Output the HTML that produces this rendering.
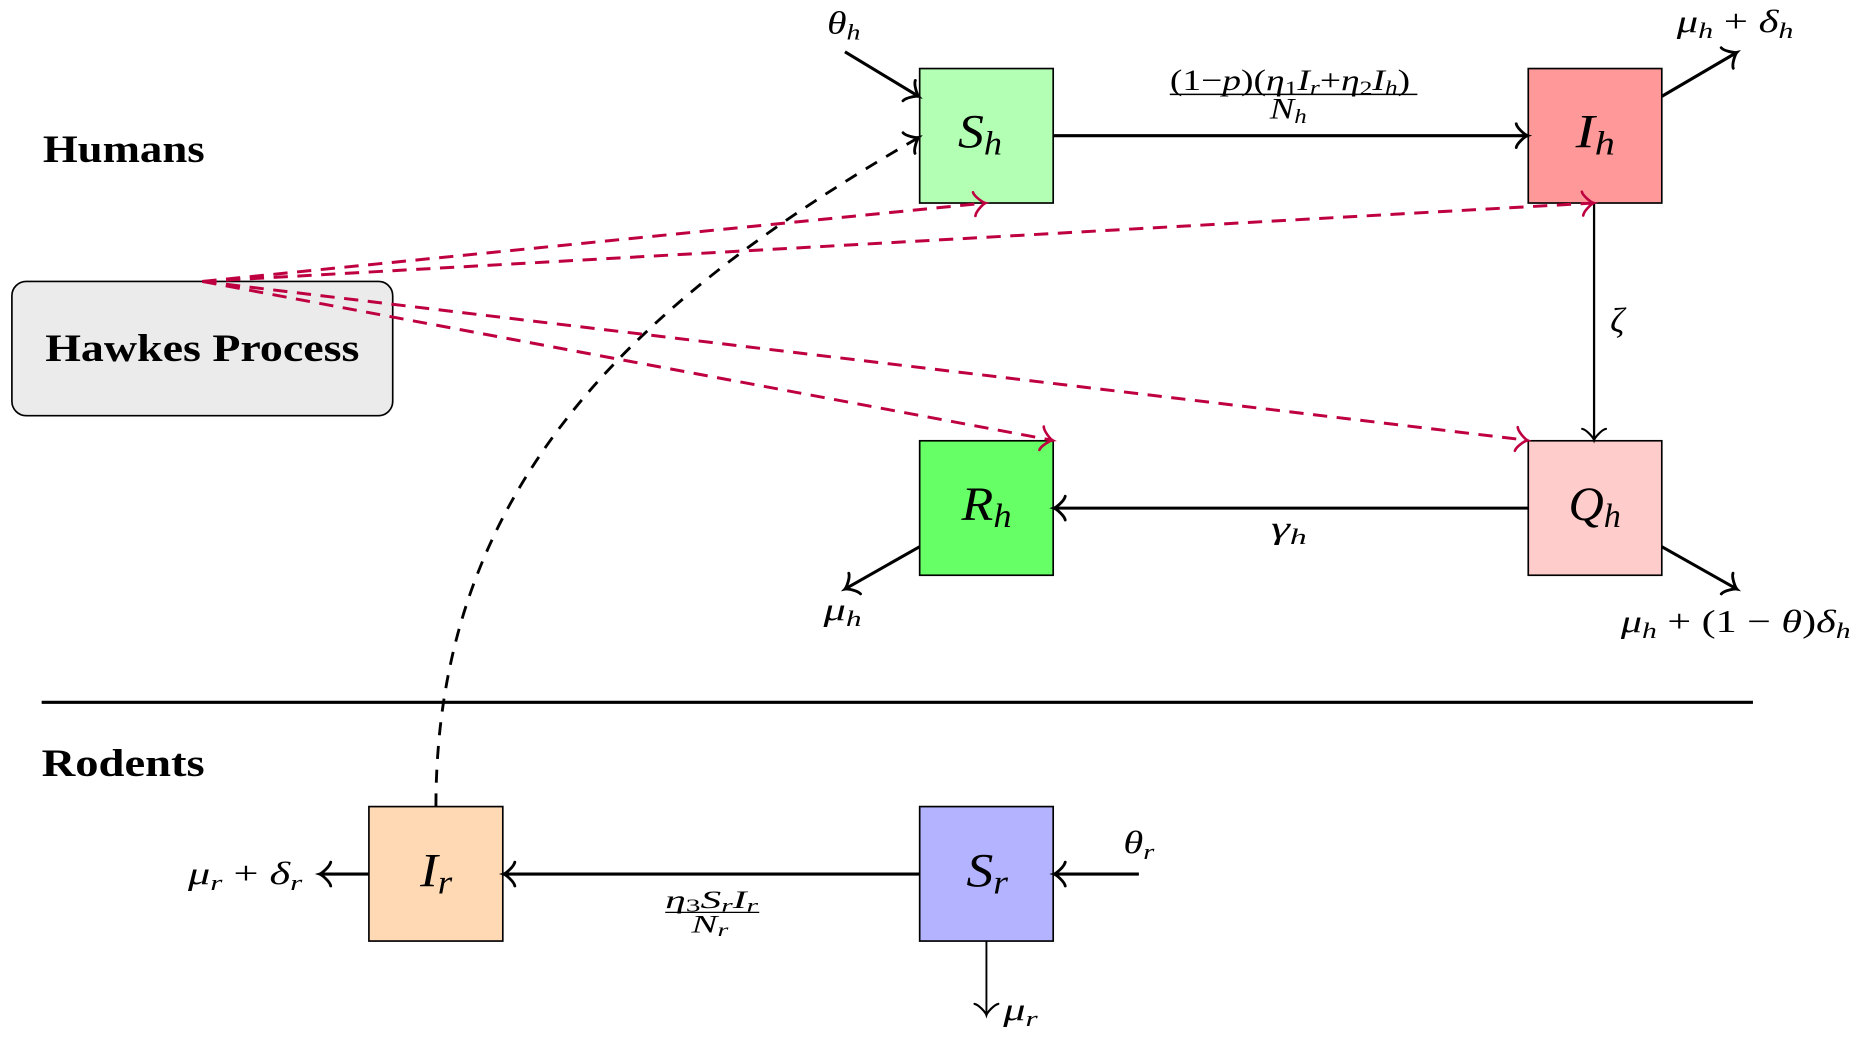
<!DOCTYPE html>
<html><head><meta charset="utf-8">
<style>
html,body{margin:0;padding:0;background:#fff;width:1866px;height:1050px;overflow:hidden;}
svg{display:block;}
text{font-family:"Liberation Serif","DejaVu Serif",serif;fill:#000;white-space:pre;}
.i{font-style:italic;}
.n{font-style:normal;}
.b{font-weight:bold;}
</style></head><body>
<svg width="1866" height="1050" viewBox="0 0 1568 882.35" preserveAspectRatio="none" xmlns="http://www.w3.org/2000/svg">
<defs>
<marker id="ak" markerUnits="userSpaceOnUse" orient="auto" refX="0" refY="0" markerWidth="30" markerHeight="30" overflow="visible">
<path d="M-9.4,10 C-8.75,6.25 -1.9,0.6 0,0 C-1.9,-0.6 -8.75,-6.25 -9.4,-10" fill="none" stroke="#000" stroke-width="2.4" stroke-linecap="round" stroke-dasharray="none"/>
</marker>
<marker id="akt" markerUnits="userSpaceOnUse" orient="auto" refX="0" refY="0" markerWidth="30" markerHeight="30" overflow="visible">
<path d="M-9.4,10 C-8.75,6.25 -1.9,0.6 0,0 C-1.9,-0.6 -8.75,-6.25 -9.4,-10" fill="none" stroke="#000" stroke-width="1.8" stroke-linecap="round" stroke-dasharray="none"/>
</marker>
<marker id="ar" markerUnits="userSpaceOnUse" orient="auto" refX="0" refY="0" markerWidth="30" markerHeight="30" overflow="visible">
<path d="M-9.4,10 C-8.75,6.25 -1.9,0.6 0,0 C-1.9,-0.6 -8.75,-6.25 -9.4,-10" fill="none" stroke="#bf0040" stroke-width="2.2" stroke-linecap="round" stroke-dasharray="none"/>
</marker>
</defs>

<!-- boxes -->
<rect x="10" y="236.5" width="320" height="112.8" rx="12" ry="12" fill="#ebebeb" stroke="#000" stroke-width="1.4"/>
<rect x="772.8" y="57.6" width="112.2" height="113" fill="#b3ffb3" stroke="#000" stroke-width="1.4"/>
<rect x="1284.2" y="57.6" width="112.2" height="113" fill="#ff9999" stroke="#000" stroke-width="1.4"/>
<rect x="772.8" y="370.4" width="112.2" height="113" fill="#66ff66" stroke="#000" stroke-width="1.4"/>
<rect x="1284.2" y="370.4" width="112.2" height="113" fill="#ffcccc" stroke="#000" stroke-width="1.4"/>
<rect x="310" y="677.8" width="112.5" height="113" fill="#ffd9b3" stroke="#000" stroke-width="1.4"/>
<rect x="772.8" y="677.8" width="112.2" height="113" fill="#b3b3ff" stroke="#000" stroke-width="1.4"/>

<!-- separator -->
<line x1="35" y1="590.2" x2="1473" y2="590.2" stroke="#000" stroke-width="2.6"/>

<!-- solid arrows -->
<g fill="none" stroke="#000">
<line x1="710" y1="43.5" x2="772" y2="81" stroke-width="2.6" marker-end="url(#ak)"/>
<line x1="885" y1="114" x2="1283.5" y2="114" stroke-width="2.6" marker-end="url(#ak)"/>
<line x1="1396.4" y1="81" x2="1459.5" y2="44" stroke-width="2.6" marker-end="url(#ak)"/>
<line x1="1339.5" y1="170.6" x2="1339.5" y2="369.8" stroke-width="1.9" marker-end="url(#akt)"/>
<line x1="1284.2" y1="427" x2="885.7" y2="427" stroke-width="2.6" marker-end="url(#ak)"/>
<line x1="772.8" y1="459.4" x2="710" y2="495" stroke-width="2.6" marker-end="url(#ak)"/>
<line x1="1396.4" y1="459.4" x2="1459.5" y2="495" stroke-width="2.6" marker-end="url(#ak)"/>
<line x1="772.8" y1="734.5" x2="423.2" y2="734.5" stroke-width="2.6" marker-end="url(#ak)"/>
<line x1="310" y1="734.5" x2="268.5" y2="734.5" stroke-width="2.6" marker-end="url(#ak)"/>
<line x1="957" y1="734.5" x2="885.7" y2="734.5" stroke-width="2.6" marker-end="url(#ak)"/>
<line x1="828.9" y1="790.8" x2="828.9" y2="853" stroke-width="1.6" marker-end="url(#akt)"/>
</g>

<!-- dashed black curve -->
<path d="M366.3,677.8 C366.3,406 537.4,250.9 772,115.5" fill="none" stroke="#000" stroke-width="2.4" stroke-dasharray="11 9" marker-end="url(#ak)"/>

<!-- red dashed -->
<g fill="none" stroke="#bf0040" stroke-width="2.5" stroke-dasharray="12 8">
<line x1="170" y1="236.5" x2="828" y2="170.6" marker-end="url(#ar)"/>
<line x1="170" y1="236.5" x2="1339.2" y2="170.6" marker-end="url(#ar)"/>
<line x1="170" y1="236.5" x2="884.5" y2="370" marker-end="url(#ar)"/>
<line x1="170" y1="236.5" x2="1283.5" y2="370" marker-end="url(#ar)"/>
</g>

<!-- section labels -->
<text class="b" x="36" y="136" font-size="33" textLength="136" lengthAdjust="spacingAndGlyphs">Humans</text>
<text class="b" x="38" y="303.5" font-size="33" textLength="264" lengthAdjust="spacingAndGlyphs">Hawkes Process</text>
<text class="b" x="35" y="652" font-size="33" textLength="137" lengthAdjust="spacingAndGlyphs">Rodents</text>

<!-- box labels -->
<text class="i" x="805" y="124" font-size="40" textLength="37" lengthAdjust="spacingAndGlyphs"><tspan>S</tspan><tspan font-size="28" dy="6">h</tspan></text>
<text class="i" x="1324" y="124" font-size="40" textLength="33" lengthAdjust="spacingAndGlyphs"><tspan>I</tspan><tspan font-size="28" dy="6">h</tspan></text>
<text class="i" x="808" y="437" font-size="40" textLength="42" lengthAdjust="spacingAndGlyphs"><tspan>R</tspan><tspan font-size="28" dy="6">h</tspan></text>
<text class="i" x="1318" y="437" font-size="40" textLength="44" lengthAdjust="spacingAndGlyphs"><tspan>Q</tspan><tspan font-size="28" dy="6">h</tspan></text>
<text class="i" x="353" y="745" font-size="40" textLength="27" lengthAdjust="spacingAndGlyphs"><tspan>I</tspan><tspan font-size="28" dy="6">r</tspan></text>
<text class="i" x="812" y="745" font-size="40" textLength="35" lengthAdjust="spacingAndGlyphs"><tspan>S</tspan><tspan font-size="28" dy="6">r</tspan></text>

<!-- rate labels -->
<text class="i" x="695" y="28" font-size="27" textLength="28" lengthAdjust="spacingAndGlyphs"><tspan>θ</tspan><tspan font-size="19" dy="5">h</tspan></text>
<text class="i" x="1409" y="27" font-size="27" textLength="98" lengthAdjust="spacingAndGlyphs"><tspan>μ</tspan><tspan font-size="19" dy="5">h</tspan><tspan class="n" dy="-5"> + </tspan><tspan>δ</tspan><tspan font-size="19" dy="5">h</tspan></text>
<text class="i" x="692" y="521" font-size="27" textLength="32" lengthAdjust="spacingAndGlyphs"><tspan>μ</tspan><tspan font-size="19" dy="5">h</tspan></text>
<text class="i" x="1362" y="531" font-size="27" textLength="193" lengthAdjust="spacingAndGlyphs"><tspan>μ</tspan><tspan font-size="19" dy="5">h</tspan><tspan class="n" dy="-5"> + (1 − </tspan><tspan>θ</tspan><tspan class="n">)</tspan><tspan>δ</tspan><tspan font-size="19" dy="5">h</tspan></text>
<text class="i" x="1353" y="279" font-size="29" textLength="12" lengthAdjust="spacingAndGlyphs">ζ</text>
<text class="i" x="1068" y="452" font-size="27" textLength="30" lengthAdjust="spacingAndGlyphs"><tspan>γ</tspan><tspan font-size="19" dy="5">h</tspan></text>
<text class="i" x="944" y="717" font-size="27" textLength="26" lengthAdjust="spacingAndGlyphs"><tspan>θ</tspan><tspan font-size="19" dy="5">r</tspan></text>
<text class="i" x="158" y="743" font-size="27" textLength="96" lengthAdjust="spacingAndGlyphs"><tspan>μ</tspan><tspan font-size="19" dy="5">r</tspan><tspan class="n" dy="-5"> + </tspan><tspan>δ</tspan><tspan font-size="19" dy="5">r</tspan></text>
<text class="i" x="843" y="857" font-size="27" textLength="29" lengthAdjust="spacingAndGlyphs"><tspan>μ</tspan><tspan font-size="19" dy="5">r</tspan></text>

<!-- top fraction -->
<text class="i" x="983" y="75.5" font-size="25" textLength="202" lengthAdjust="spacingAndGlyphs"><tspan class="n">(1−</tspan><tspan>p</tspan><tspan class="n">)(</tspan><tspan>η</tspan><tspan class="n" font-size="17" dy="4">1</tspan><tspan dy="-4">I</tspan><tspan font-size="17" dy="4">r</tspan><tspan class="n" dy="-4">+</tspan><tspan>η</tspan><tspan class="n" font-size="17" dy="4">2</tspan><tspan dy="-4">I</tspan><tspan font-size="17" dy="4">h</tspan><tspan class="n" dy="-4">)</tspan></text>
<line x1="983" y1="79.3" x2="1191" y2="79.3" stroke="#000" stroke-width="1.2"/>
<text class="i" x="1067" y="99.5" font-size="25" textLength="31" lengthAdjust="spacingAndGlyphs"><tspan>N</tspan><tspan font-size="17" dy="4">h</tspan></text>

<!-- bottom fraction -->
<text class="i" x="559" y="763" font-size="21" textLength="78" lengthAdjust="spacingAndGlyphs"><tspan>η</tspan><tspan class="n" font-size="15" dy="3">3</tspan><tspan dy="-3">S</tspan><tspan font-size="15" dy="3">r</tspan><tspan dy="-3">I</tspan><tspan font-size="15" dy="3">r</tspan></text>
<line x1="559" y1="766.7" x2="638" y2="766.7" stroke="#000" stroke-width="1"/>
<text class="i" x="581" y="783.5" font-size="21" textLength="31" lengthAdjust="spacingAndGlyphs"><tspan>N</tspan><tspan font-size="15" dy="3">r</tspan></text>
</svg>
</body></html>
